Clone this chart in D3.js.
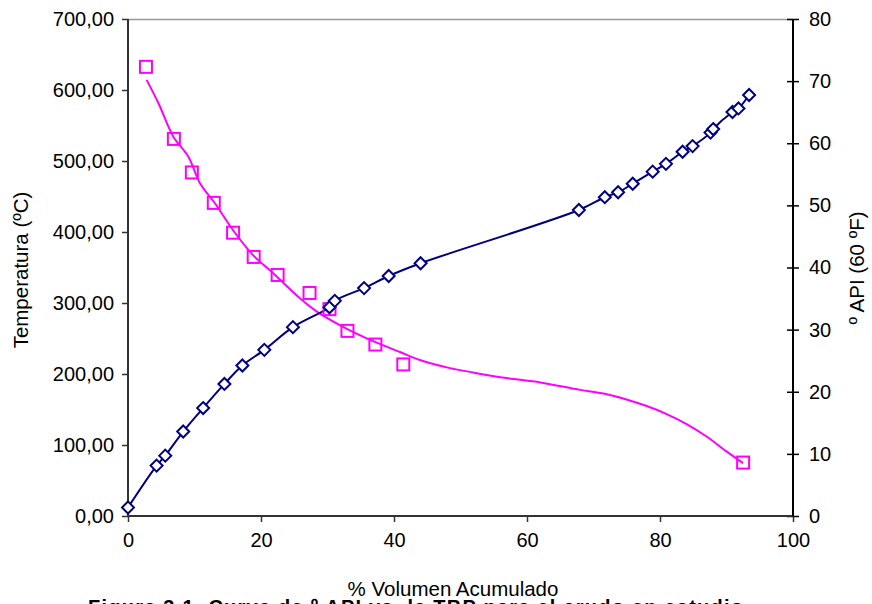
<!DOCTYPE html>
<html>
<head>
<meta charset="utf-8">
<script src="https://cdn.jsdelivr.net/npm/d3@7"></script>
<style>
  body { margin: 0; background: #fff; }
  text { font-family: "Liberation Sans", Arial, sans-serif; }
</style>
</head>
<body>
<div id="chart"></div>
<script>
let width = 872
let height = 604

// TBP: % volumen acumulado vs temperatura (diamantes azules)
let tbpVol = [0, 4.3, 5.6, 8.3, 11.3, 14.5, 17.2, 20.5, 24.8, 30.3, 31.1, 35.5, 39.2, 44.0,
  67.8, 71.7, 73.7, 75.9, 78.9, 80.9, 83.4, 84.9, 87.6, 88.0, 90.9, 91.8, 93.4]
let tbpTemp = [12, 71, 85, 119, 152, 186, 212, 234, 266, 294, 303, 321, 338, 356,
  431, 449, 456, 468, 485, 496, 513, 521, 540, 545, 569, 574, 593]

// ºAPI vs % volumen (cuadrados magenta)
let apiVol = [2.7, 6.9, 9.6, 12.9, 15.8, 18.9, 22.5, 27.3, 30.3, 33.0, 37.2, 41.4, 92.5]
let apiVal = [72.3, 60.7, 55.3, 50.4, 45.6, 41.7, 38.8, 35.9, 33.3, 29.8, 27.6, 24.4, 8.6]

// curva de ajuste del ºAPI
let apiFitVol = [2.8, 4.6, 6.8, 9.1, 10.8, 13.1, 15.8, 18.8, 21.8, 25.9, 28.4, 31.9, 35.9, 40.9,
  43.9, 48.4, 51.4, 56.9, 62.0, 68.0, 72.0, 78.0, 81.0, 84.0, 87.0, 90.0, 92.5]
let apiFitVal = [70.2, 66.4, 61.1, 57.8, 53.6, 50.3, 46.0, 42.0, 39.1, 35.0, 32.9, 30.7, 28.6, 26.4,
  25.1, 23.8, 23.2, 22.2, 21.5, 20.3, 19.6, 17.7, 16.4, 14.8, 12.8, 10.4, 8.5]

let xTicks = [0, 20, 40, 60, 80, 100]
let leftTicks = [0, 100, 200, 300, 400, 500, 600, 700]
let rightTicks = [0, 10, 20, 30, 40, 50, 60, 70, 80]

let tbp = tbpVol.map((v, i) => ({ x: v, y: tbpTemp[i] }))
let api = apiVol.map((v, i) => ({ x: v, y: apiVal[i] }))
let apiFit = apiFitVol.map((v, i) => ({ x: v, y: apiFitVal[i] }))

let svg = d3.select("#chart")
  .append("svg")
    .attr("width", width)
    .attr("height", height)

let x = d3.scaleLinear().domain([0, 100]).range([128, 793])
let yL = d3.scaleLinear().domain([0, 700]).range([516, 19])
let yR = d3.scaleLinear().domain([0, 80]).range([516, 19])

// borde superior gris
svg.append("line")
  .attr("x1", 128).attr("x2", 793)
  .attr("y1", 19.5).attr("y2", 19.5)
  .attr("stroke", "#999").attr("stroke-width", 1.5)

let fmt = d => d3.format(".2f")(d).replace(".", ",")

let gx = svg.append("g")
  .attr("transform", "translate(0,516)")
  .call(d3.axisBottom(x).tickValues(xTicks).tickSize(6).tickPadding(11).tickFormat(d3.format("d")))
let gl = svg.append("g")
  .attr("transform", "translate(128,0)")
  .call(d3.axisLeft(yL).tickValues(leftTicks).tickSize(6).tickPadding(8).tickFormat(fmt))
let gr = svg.append("g")
  .attr("transform", "translate(793,0)")
  .call(d3.axisRight(yR).tickValues(rightTicks).tickSize(6).tickPadding(10).tickFormat(d3.format("d")))

// marcas del eje derecho cruzan la línea
gr.selectAll(".tick line").attr("x1", -6)

for (let g of [gx, gl, gr]) {
  g.select(".domain").remove()
  g.selectAll("text").attr("font-size", 20).attr("fill", "#000")
    .style("font-family", "'Liberation Sans', Arial, sans-serif")
}
gx.selectAll(".tick line").attr("stroke", "#333").attr("stroke-width", 1.5)
gl.selectAll(".tick line").attr("stroke", "#333").attr("stroke-width", 1.5)
gr.selectAll(".tick line").attr("stroke", "#000").attr("stroke-width", 1.5)

svg.append("line").attr("x1", 128).attr("x2", 793).attr("y1", 516).attr("y2", 516)
  .attr("stroke", "#333").attr("stroke-width", 2)
svg.append("line").attr("x1", 128).attr("x2", 128).attr("y1", 19).attr("y2", 516)
  .attr("stroke", "#333").attr("stroke-width", 2)
svg.append("line").attr("x1", 793).attr("x2", 793).attr("y1", 19).attr("y2", 516)
  .attr("stroke", "#000").attr("stroke-width", 2)

// líneas
svg.append("path")
  .datum(apiFit)
  .attr("fill", "none")
  .attr("stroke", "#ff00ff")
  .attr("stroke-width", 2)
  .attr("d", d3.line().x(d => x(d.x)).y(d => yR(d.y)).curve(d3.curveCatmullRom))

svg.append("path")
  .datum(tbp)
  .attr("fill", "none")
  .attr("stroke", "#000080")
  .attr("stroke-width", 2)
  .attr("d", d3.line().x(d => x(d.x)).y(d => yL(d.y)).curve(d3.curveCatmullRom))

// marcadores
svg.append("g")
  .selectAll("rect")
  .data(api)
  .enter()
  .append("rect")
    .attr("x", d => x(d.x) - 6)
    .attr("y", d => yR(d.y) - 6)
    .attr("width", 12)
    .attr("height", 12)
    .attr("fill", "none")
    .attr("stroke", "#ff00ff")
    .attr("stroke-width", 2)

svg.append("g")
  .selectAll("path")
  .data(tbp)
  .enter()
  .append("path")
    .attr("transform", d => "translate(" + x(d.x) + "," + yL(d.y) + ")")
    .attr("d", "M0,-6L6,0L0,6L-6,0Z")
    .attr("fill", "#fff")
    .attr("stroke", "#000080")
    .attr("stroke-width", 2)

// títulos
svg.append("text")
  .attr("transform", "translate(28,270) rotate(-90)")
  .attr("text-anchor", "middle")
  .attr("font-size", 20.5)
  .text("Temperatura (ºC)")

svg.append("text")
  .attr("transform", "translate(864,268) rotate(-90)")
  .attr("text-anchor", "middle")
  .attr("font-size", 20.5)
  .text("º API (60 ºF)")

svg.append("text")
  .attr("x", 453).attr("y", 596)
  .attr("text-anchor", "middle")
  .attr("font-size", 20.5)
  .text("% Volumen Acumulado")

svg.append("text")
  .attr("x", 88).attr("y", 614)
  .attr("font-size", 20)
  .attr("font-weight", "bold")
  .attr("textLength", 655)
  .attr("lengthAdjust", "spacing")
  .text("Figura 3.1. Curva de º API vs. la TBP para el crudo en estudio")
</script>
</body>
</html>
